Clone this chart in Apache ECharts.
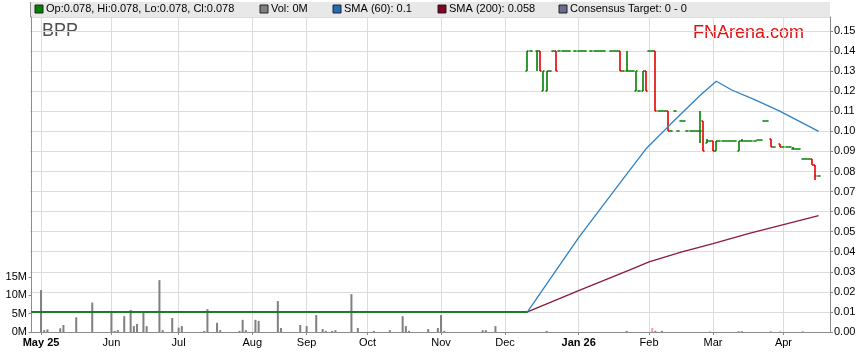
<!DOCTYPE html>
<html><head><meta charset="utf-8">
<script src="https://cdn.jsdelivr.net/npm/echarts@6/dist/echarts.min.js"></script>
<style>html,body{margin:0;padding:0;background:#fff}#c{width:859px;height:363px}</style>
</head><body><div id="c"></div>
<script>
// x unit = trading-day index
const monthTickDays = [3, 25, 46, 69, 86, 105, 128, 148, 171, 193, 213, 235];
const monthTickLabels = ['May 25','Jun','Jul','Aug','Sep','Oct','Nov','Dec','Jan 26','Feb','Mar','Apr'];
const boldLabels = ['May 25','Jan 26'];
const volumeTicks = [0, 5, 10, 15];

// pre-relisting flat price (day, price)
const priceFlat = [[0, 0.01], [155, 0.01]];

// [day, open, high, low, close]
const ohlc = [
  [155,0.13,0.14,0.13,0.14],[156,0.14,0.14,0.14,0.14],[158,0.14,0.14,0.13,0.14],[159,0.14,0.14,0.13,0.13],
  [160,0.12,0.13,0.12,0.13],[161,0.12,0.13,0.12,0.13],[162,0.13,0.13,0.13,0.13],[163,0.14,0.14,0.14,0.14],
  [164,0.14,0.14,0.13,0.13],[165,0.14,0.14,0.14,0.14],[166,0.14,0.14,0.14,0.14],[167,0.14,0.14,0.14,0.14],
  [168,0.14,0.14,0.14,0.14],[170,0.14,0.14,0.14,0.14],[171,0.14,0.14,0.14,0.14],[172,0.14,0.14,0.14,0.14],
  [173,0.14,0.14,0.14,0.14],[175,0.14,0.14,0.14,0.14],[176,0.14,0.14,0.14,0.14],[177,0.14,0.14,0.14,0.14],
  [178,0.14,0.14,0.14,0.14],[179,0.14,0.14,0.14,0.14],[181,0.14,0.14,0.14,0.14],[182,0.14,0.14,0.14,0.14],
  [183,0.14,0.14,0.14,0.14],[184,0.14,0.14,0.13,0.13],[185,0.13,0.13,0.13,0.13],[186,0.13,0.14,0.13,0.13],
  [187,0.13,0.13,0.13,0.13],[188,0.13,0.13,0.13,0.13],[189,0.12,0.13,0.12,0.13],[190,0.12,0.12,0.12,0.12],
  [191,0.12,0.13,0.12,0.13],[192,0.13,0.13,0.12,0.12],[193,0.14,0.14,0.14,0.14],[194,0.14,0.14,0.14,0.14],
  [195,0.14,0.14,0.11,0.11],[196,0.11,0.11,0.11,0.11],[197,0.11,0.11,0.11,0.11],[198,0.11,0.11,0.11,0.11],
  [199,0.11,0.11,0.10,0.10],[200,0.10,0.10,0.10,0.10],[201,0.11,0.11,0.11,0.11],[202,0.10,0.10,0.10,0.10],
  [203,0.105,0.105,0.105,0.105],[204,0.105,0.105,0.105,0.105],[205,0.10,0.10,0.10,0.10],[206,0.10,0.10,0.10,0.10],
  [207,0.10,0.10,0.10,0.10],[208,0.10,0.10,0.10,0.10],[209,0.10,0.11,0.094,0.10],[210,0.105,0.105,0.09,0.09],
  [211,0.094,0.096,0.094,0.095],[212,0.095,0.095,0.095,0.095],[213,0.095,0.095,0.09,0.09],[214,0.09,0.095,0.09,0.095],
  [215,0.095,0.095,0.095,0.095],[216,0.095,0.095,0.095,0.095],[217,0.095,0.095,0.095,0.095],[218,0.095,0.095,0.095,0.095],
  [219,0.095,0.095,0.095,0.095],[220,0.095,0.095,0.095,0.095],[221,0.09,0.095,0.09,0.095],[222,0.095,0.096,0.095,0.095],
  [223,0.095,0.095,0.095,0.095],[224,0.095,0.095,0.095,0.095],[225,0.095,0.095,0.095,0.095],[226,0.095,0.095,0.095,0.095],
  [227,0.0955,0.0955,0.0955,0.0955],[228,0.0955,0.0955,0.0955,0.0955],[229,0.105,0.105,0.105,0.105],[230,0.105,0.105,0.105,0.105],
  [231,0.096,0.096,0.092,0.092],[232,0.092,0.092,0.092,0.092],[234,0.0935,0.0935,0.092,0.092],[235,0.092,0.092,0.092,0.092],
  [236,0.092,0.092,0.092,0.092],[237,0.092,0.092,0.092,0.092],[238,0.091,0.092,0.091,0.091],[239,0.091,0.091,0.091,0.091],
  [240,0.091,0.091,0.091,0.091],[241,0.086,0.086,0.086,0.086],[242,0.086,0.086,0.086,0.086],[243,0.086,0.086,0.086,0.086],
  [244,0.086,0.086,0.083,0.083],[245,0.083,0.083,0.076,0.078],[246,0.078,0.078,0.078,0.078]
];

const sma60 = [[0,0.01],[155,0.01],[171,0.047],[184,0.0744],[192,0.0912],[200,0.104],[209,0.118],[214,0.125],[219,0.1205],[226,0.1158],[234,0.110],[240,0.105],[246,0.100]];
const sma200 = [[0,0.01],[155,0.01],[171,0.0206],[187,0.031],[193,0.035],[203,0.0398],[213,0.044],[224,0.049],[235,0.0535],[246,0.058]];

// volume in millions: [day, vol]
const volUp = [[3,11.4],[4,0.5],[5,0.7],[9,1.0],[10,1.9],[14,4.0],[19,8.0],[25,5.7],[26,0.3],[27,0.5],[29,4.3],[31,6.0],[32,1.6],[33,2.2],
  [35,5.7],[36,1.6],[40,14.1],[41,0.5],[44,3.8],[46,1.2],[47,1.6],[54,0.3],[55,6.2],[58,2.5],[59,0.5],[65,0.3],[66,3.3],[67,0.5],
  [70,3.3],[71,3.0],[77,8.4],[78,1.1],[84,1.9],[86,1.6],[89,4.6],[91,0.8],[92,0.3],[94,0.3],[95,0.5],[100,10.3],[102,1.1],[107,0.3],
  [112,0.5],[116,4.3],[117,1.6],[118,0.3],[124,0.8],[127,1.1],[128,4.6],[129,0.3],[141,0.5],[142,0.5],[145,1.6],[161,0.3],[186,0.3],
  [195,0.3],[197,0.3],[221,0.2],[222,0.2]];
const volDown = [[194,1.1],[212,0.2],[231,0.3],[234,0.2],[241,0.3]];

const legendItems = [
  {color:'#008000', text:'Op:0.078, Hi:0.078, Lo:0.078, Cl:0.078'},
  {color:'#808080', text:'Vol: 0M'},
  {color:'#1f6fb8', text:'SMA (60): 0.1'},
  {color:'#800020', text:'SMA (200): 0.058'},
  {color:'#6b6b8e', text:'Consensus Target: 0 - 0'}
];
const legendX = [35, 260, 333, 438, 559];

const FONT = '"Liberation Sans", Arial, sans-serif';
const chart = echarts.init(document.getElementById('c'), null, {renderer:'canvas'});

const graphics = [
  {type:'rect', shape:{x:30, y:2, width:800, height:15}, style:{fill:'#e8e8e8'}, z:0, silent:true},
  {type:'line', shape:{x1:30.5, y1:2, x2:30.5, y2:17}, style:{stroke:'#8c8c8c', lineWidth:1}, silent:true},
  {type:'text', left:42, top:22, style:{text:'BPP', font:'18px '+FONT, fill:'#505050'}, silent:true},
  {type:'text', left:693, top:24, style:{text:'FNArena.com', font:'18px '+FONT, fill:'#dd1515'}, silent:true}
];
legendItems.forEach((it, k) => {
  graphics.push({type:'rect', shape:{x:legendX[k], y:5, width:8, height:8}, style:{fill:it.color, stroke:'#222', lineWidth:1}, silent:true});
  graphics.push({type:'text', left:legendX[k]+11, top:3, style:{text:it.text, font:'11px '+FONT, fill:'#000'}, silent:true});
});

function nearestLabel(v){
  let best = 0;
  for (let k = 1; k < monthTickDays.length; k++) if (Math.abs(monthTickDays[k]-v) < Math.abs(monthTickDays[best]-v)) best = k;
  return monthTickLabels[best];
}

const option = {
  animation:false,
  backgroundColor:'#ffffff',
  textStyle:{fontFamily:FONT},
  graphic: graphics,
  grid:{left:30, right:29, top:17, bottom:31, containLabel:false},
  xAxis:{
    type:'value', min:-0.45, max:249.55,
    axisLine:{show:true, lineStyle:{color:'#8c8c8c'}},
    axisTick:{show:true, customValues:monthTickDays, length:3, lineStyle:{color:'#8c8c8c'}},
    axisLabel:{customValues:monthTickDays, fontSize:11, color:'#000', margin:5, fontFamily:FONT,
      formatter:function(v){ const l = nearestLabel(v); return boldLabels.includes(l) ? '{b|'+l+'}' : l; },
      rich:{b:{fontWeight:'bold', fontSize:11, fontFamily:FONT, color:'#000'}}},
    splitLine:{show:true, lineStyle:{color:'#dcdcdc'}}
  },
  yAxis:[
    {type:'value', position:'left', min:0, max:85.6, interval:5,
      axisLine:{show:true, lineStyle:{color:'#8c8c8c'}},
      axisTick:{show:true, customValues:volumeTicks, length:3, lineStyle:{color:'#8c8c8c'}},
      axisLabel:{customValues:volumeTicks, fontSize:11, color:'#000', margin:3, fontFamily:FONT, formatter:v=>v+'M'},
      splitLine:{show:false}},
    {type:'value', position:'right', min:0, max:0.157, interval:0.01,
      axisLine:{show:true, lineStyle:{color:'#8c8c8c'}},
      axisTick:{show:true, length:3, lineStyle:{color:'#8c8c8c'}},
      axisLabel:{fontSize:11, color:'#000', margin:4, fontFamily:FONT, showMaxLabel:false, formatter:v=>v.toFixed(2)},
      splitLine:{show:true, lineStyle:{color:'#dcdcdc'}}}
  ],
  series:[
    {name:'Vol', type:'bar', yAxisIndex:0, data:volUp, barWidth:2, barGap:'-100%', itemStyle:{color:'#808080'}, silent:true},
    {name:'VolDown', type:'bar', yAxisIndex:0, data:volDown, barWidth:2, barGap:'-100%', itemStyle:{color:'#f4a0a0'}, silent:true},
    {name:'SMA (200)', type:'line', yAxisIndex:1, data:sma200, symbol:'none', smooth:false, lineStyle:{color:'#8b1a3e', width:1.3}, silent:true},
    {name:'SMA (60)', type:'line', yAxisIndex:1, data:sma60, symbol:'none', smooth:false, lineStyle:{color:'#2f82c4', width:1.3}, silent:true},
    {name:'PriceFlat', type:'line', yAxisIndex:1, data:priceFlat, symbol:'none', lineStyle:{color:'#008000', width:1.6}, silent:true},
    {name:'Price', type:'custom', yAxisIndex:1, data:ohlc, encode:{x:0, y:[1,2,3,4]}, silent:true,
      renderItem:function(params, api){
        const d = api.value(0), o = api.value(1), h = api.value(2), l = api.value(3), c = api.value(4);
        const pO = api.coord([d,o]), pH = api.coord([d,h]), pL = api.coord([d,l]), pC = api.coord([d,c]);
        const half = api.size([1,0])[0]/2;
        const x = Math.round(pO[0]);
        const color = c < o ? '#e00000' : '#008000';
        const st = {stroke:color, lineWidth:1.6, lineCap:'butt'};
        const yo = Math.round(pO[1]), yc = Math.round(pC[1]);
        const ch = [
          {type:'line', shape:{x1:x-half, y1:yo, x2:x, y2:yo}, style:st},
          {type:'line', shape:{x1:x, y1:yc, x2:x+half, y2:yc}, style:st}
        ];
        if (h !== l) ch.push({type:'line', shape:{x1:x, y1:Math.round(pH[1]), x2:x, y2:Math.round(pL[1])}, style:st});
        return {type:'group', children:ch};
      }}
  ]
};
chart.setOption(option);
</script>
</body></html>
